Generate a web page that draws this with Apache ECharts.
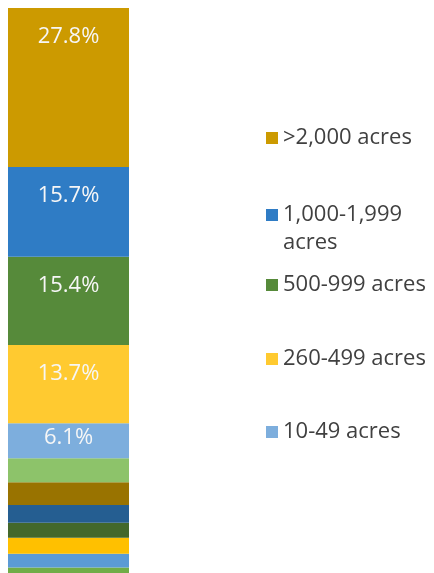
<!DOCTYPE html>
<html>
<head>
<meta charset="utf-8">
<script src="https://cdn.jsdelivr.net/npm/echarts@6/dist/echarts.min.js"></script>
<style>
  html, body { margin: 0; padding: 0; background: #fff; }
  #farms { width: 434px; height: 573px; }
</style>
</head>
<body>
<div id="farms"></div>
<script>
// one stacked column, bottom segment first
var sizeClasses = ['1-9 acres', '50-69 acres', '70-99 acres', '100-139 acres', '140-179 acres',
    '180-219 acres', '220-259 acres', '10-49 acres', '260-499 acres', '500-999 acres',
    '1,000-1,999 acres', '>2,000 acres'];
var shares = [2.2, 2.4, 2.8, 2.6, 3.1, 4.0, 4.2, 6.1, 13.7, 15.4, 15.7, 27.8];
var colors = ['#70AD47', '#5B9BD5', '#FFC000', '#43682B', '#255E91', '#997300',
    '#8DC36A', '#7DAEDD', '#FFCA30', '#568A3A', '#2F7CC5', '#CC9A00'];
// only these classes get a label and a legend entry
var labelled = ['>2,000 acres', '1,000-1,999 acres', '500-999 acres', '260-499 acres', '10-49 acres'];
var legendTops = [119, 196, 266, 340, 413];

var chart = echarts.init(document.getElementById('farms'));

var series = sizeClasses.map(function (name, i) {
    var show = labelled.indexOf(name) >= 0;
    return {
        name: name,
        type: 'bar',
        stack: 'all',
        barWidth: '100%',
        data: [shares[i]],
        itemStyle: {color: colors[i]},
        label: {
            show: show,
            position: shares[i] < 8 ? 'inside' : 'insideTop',
            distance: 18,
            offset: shares[i] < 8 ? [0, -3] : [0, 0],
            color: '#F6F6F6',
            fontFamily: 'Open Sans',
            fontSize: 22,
            formatter: function (p) {
                return p.value.toFixed(1) + '%';
            }
        }
    };
});

var legendText = {color: '#404040', fontFamily: 'Open Sans', fontSize: 22, lineHeight: 28};
var legends = labelled.map(function (name, i) {
    return {
        orient: 'vertical',
        left: 261,
        top: legendTops[i],
        itemWidth: 12,
        itemHeight: 12,
        icon: 'rect',
        data: [name],
        selectedMode: false,
        textStyle: legendText,
        formatter: function (n) {
            return n === '1,000-1,999 acres' ? '1,000-1,999' : n;
        }
    };
});
// wrapped second line of the 1,000-1,999 entry
legends.push({
    orient: 'vertical',
    left: 261,
    top: 224,
    itemWidth: 12,
    itemHeight: 12,
    icon: 'rect',
    itemStyle: {opacity: 0},
    data: ['1,000-1,999 acres'],
    selectedMode: false,
    textStyle: legendText,
    formatter: function () {
        return 'acres';
    }
});

option = {
    animation: false,
    // column runs past the bottom edge, as in the cropped original
    grid: {left: 8, top: 8, width: 121, height: 572, outerBoundsMode: 'none'},
    xAxis: {type: 'category', data: ['farms'], show: false},
    yAxis: {type: 'value', min: 0, max: 100, show: false},
    legend: legends,
    series: series
};
chart.setOption(option, true);
</script>
</body>
</html>
